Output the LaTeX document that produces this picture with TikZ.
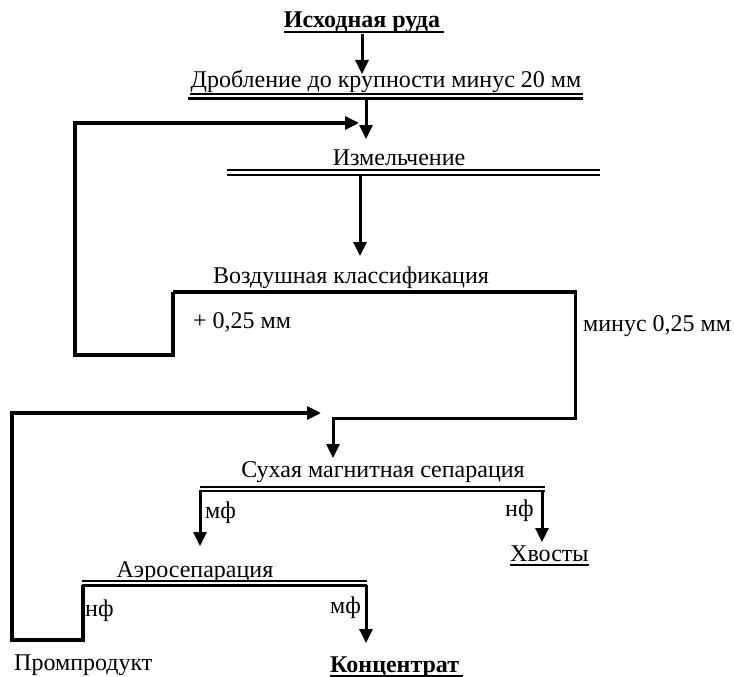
\documentclass[tikz,border=0pt]{standalone}
\usepackage{fontspec}
\setmainfont{Liberation Serif}
\usetikzlibrary{arrows.meta}
\begin{document}
\begin{tikzpicture}[x=1pt,y=-1pt,
  lbl/.style={font=\fontsize{24}{28}\selectfont, inner sep=0pt, anchor=base},
  lbll/.style={lbl, anchor=base west},
  flow/.style={line width=3pt, -{Triangle[width=13pt,length=14pt]}},
  loopline/.style={line width=3.2pt, -{Triangle[width=13pt,length=14pt]}},
  thinbar/.style={line width=1.6pt},
  thickbar/.style={line width=2.8pt},
  ul/.style={line width=1.8pt}]
\useasboundingbox (0,0) rectangle (734,677);

% text nodes
\node[lbl] (src) at (362,28) {\bfseries Исходная руда};
\node[lbl] (crush) at (386,88) {Дробление до крупности минус 20 мм};
\node[lbl] (grind) at (399,165) {Измельчение};
\node[lbl] (aircl) at (351,283) {Воздушная классификация};
\node[lbll] (plus) at (193,328) {+ 0,25 мм};
\node[lbll] (minus) at (583,331) {минус 0,25 мм};
\node[lbl] (magsep) at (383,477) {Сухая магнитная сепарация};
\node[lbll] (mfa) at (205,518) {мф};
\node[lbll] (nfa) at (505,516) {нф};
\node[lbll] (tails) at (510,561) {Хвосты};
\node[lbl] (aero) at (195,577) {Аэросепарация};
\node[lbll] (mfb) at (330,613) {мф};
\node[lbll] (nfb) at (85,616) {нф};
\node[lbll] (prom) at (14,670) {Промпродукт};
\node[lbll] (conc) at (330,672) {\bfseries Концентрат};

% underlines
\draw[ul] ([yshift=-4pt]src.base west) -- ([xshift=4pt,yshift=-4pt]src.base east);
\draw[ul] ([yshift=-4pt]tails.base west) -- ([yshift=-4pt]tails.base east);
\draw[ul] ([yshift=-4pt]conc.base west) -- ([xshift=4pt,yshift=-4pt]conc.base east);

% process bars
\coordinate (crL1) at (190,94);  \coordinate (crR1) at (583,94);
\coordinate (crL2) at (188,98.5); \coordinate (crR2) at (583,98.5);
\draw[thinbar] (crL1) -- (crR1);
\draw[thickbar] (crL2) -- (crR2);
\coordinate (grL1) at (227,170); \coordinate (grR1) at (600,170);
\coordinate (grL2) at (227,175); \coordinate (grR2) at (600,175);
\draw[thinbar] (grL1) -- (grR1);
\draw[thinbar] (grL2) -- (grR2);
\coordinate (acL) at (173,292); \coordinate (acR) at (577,292);
\draw[line width=4.5pt] (acL) -- (acR);
\coordinate (msL1) at (200,487); \coordinate (msR1) at (545,487);
\coordinate (msL2) at (200,491); \coordinate (msR2) at (545,491);
\draw[thinbar] (msL1) -- (msR1);
\draw[thickbar] (msL2) -- (msR2);
\coordinate (aeL1) at (82,581); \coordinate (aeR1) at (367,581);
\coordinate (aeL2) at (82,585.5); \coordinate (aeR2) at (367,585.5);
\draw[thinbar] (aeL1) -- (aeR1);
\draw[thickbar] (aeL2) -- (aeR2);

% connectors
\coordinate (a1s) at (362,34);  \coordinate (a1e) at (362,74);
\draw[flow] (a1s) -- (a1e);
\coordinate (a2s) at (366,99);  \coordinate (a2e) at (366,139);
\draw[flow] (a2s) -- (a2e);
\coordinate (a3s) at (360,175); \coordinate (a3e) at (360,256);
\draw[flow] (a3s) -- (a3e);

\coordinate (r1a) at (173,292); \coordinate (r1b) at (173,355);
\coordinate (r1c) at (75,355);  \coordinate (r1d) at (75,123);
\coordinate (r1e) at (359,123);
\draw[loopline] (r1a) -- (r1b) -- (r1c) -- (r1d) -- (r1e);

\coordinate (m1a) at (575,292); \coordinate (m1b) at (575,418);
\coordinate (m1c) at (333,418); \coordinate (m1d) at (333,458);
\draw[flow] (m1a) -- (m1b) -- (m1c) -- (m1d);

\coordinate (f1a) at (200,490); \coordinate (f1b) at (200,546);
\draw[flow] (f1a) -- (f1b);
\coordinate (f2a) at (542,490); \coordinate (f2b) at (542,542);
\draw[flow] (f2a) -- (f2b);
\coordinate (f3a) at (366,585); \coordinate (f3b) at (366,643);
\draw[flow] (f3a) -- (f3b);

\coordinate (r2a) at (83,585); \coordinate (r2b) at (83,640);
\coordinate (r2c) at (12,640); \coordinate (r2d) at (12,413);
\coordinate (r2e) at (321,413);
\draw[loopline] (r2a) -- (r2b) -- (r2c) -- (r2d) -- (r2e);
\end{tikzpicture}
\end{document}
